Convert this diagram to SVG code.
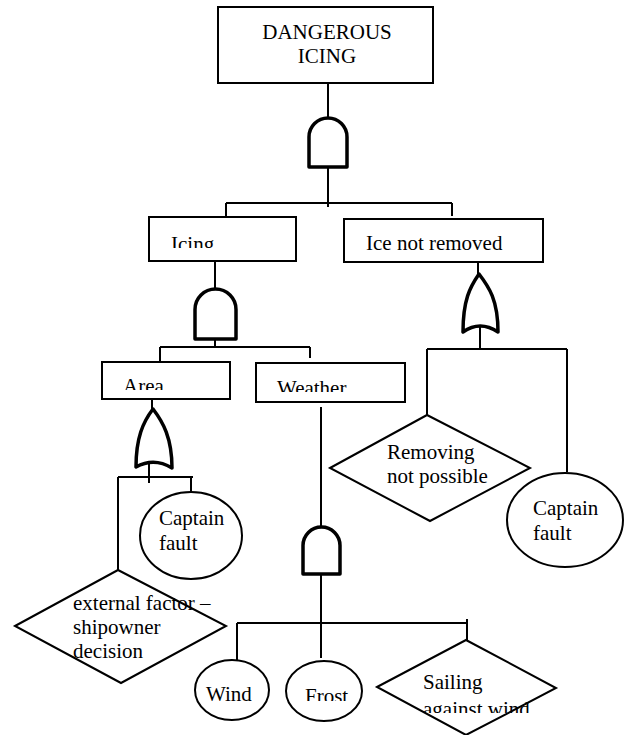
<svg xmlns="http://www.w3.org/2000/svg" width="627" height="735" viewBox="0 0 627 735">
<style>
.box{fill:#fff;stroke:#000;stroke-width:2}
.shape{fill:#fff;stroke:#000;stroke-width:2}
.gate{fill:#fff;stroke:#000;stroke-width:3.5;stroke-linejoin:round}
.conn line{stroke:#000;stroke-width:2}
text{font-family:"Liberation Serif","Times New Roman",serif;font-size:21px;fill:#000}
</style>
<defs>
<clipPath id="cIcing"><rect x="140" y="200" width="160" height="48"/></clipPath>
<clipPath id="cArea"><rect x="100" y="360" width="130" height="30"/></clipPath>
<clipPath id="cWeather"><rect x="250" y="360" width="160" height="32"/></clipPath>
<clipPath id="cFrost"><rect x="280" y="660" width="90" height="41"/></clipPath>
<clipPath id="cSail"><rect x="370" y="640" width="200" height="73"/></clipPath>
</defs>
<rect width="627" height="735" fill="#fff"/>
<g id="connectors" class="conn">
<line x1="328" y1="83" x2="328" y2="118"/>
<line x1="328" y1="167" x2="328" y2="207"/>
<line x1="226" y1="203" x2="452" y2="203"/>
<line x1="226" y1="203" x2="226" y2="218"/>
<line x1="452" y1="203" x2="452" y2="216"/>
<line x1="215" y1="261" x2="215" y2="289"/>
<line x1="215" y1="339" x2="215" y2="347"/>
<line x1="160" y1="347" x2="310" y2="347"/>
<line x1="160" y1="347" x2="160" y2="363"/>
<line x1="310" y1="347" x2="310" y2="358"/>
<line x1="478" y1="256" x2="478" y2="274"/>
<line x1="480" y1="326" x2="480" y2="349"/>
<line x1="427" y1="349" x2="567" y2="349"/>
<line x1="427" y1="349" x2="427" y2="415"/>
<line x1="567" y1="349" x2="567" y2="472"/>
<line x1="152" y1="395" x2="152" y2="409"/>
<line x1="149" y1="463" x2="149" y2="483"/>
<line x1="118" y1="477" x2="193" y2="477"/>
<line x1="118" y1="477" x2="118" y2="570"/>
<line x1="191" y1="477" x2="191" y2="492"/>
<line x1="321" y1="407" x2="321" y2="527"/>
<line x1="321" y1="574" x2="321" y2="658"/>
<line x1="237" y1="623" x2="467" y2="623"/>
<line x1="237" y1="623" x2="237" y2="667"/>
<line x1="467" y1="619" x2="467" y2="640"/>
</g>
<g id="top">
<rect class="box" x="218" y="7" width="215" height="76"/>
<text x="327" y="39" text-anchor="middle">DANGEROUS</text>
<text x="327" y="63" text-anchor="middle">ICING</text>
</g>
<g id="gate-top"><path class="gate" d="M309,167 V137 A19,19 0 0 1 347,137 V167 Z"/></g>
<g id="icing">
<rect class="box" x="149" y="217" width="147" height="44"/>
<text x="171" y="251" clip-path="url(#cIcing)">Icing</text>
</g>
<g id="ice-not-removed">
<rect class="box" x="344" y="219" width="199" height="43"/>
<text x="366" y="250">Ice not removed</text>
</g>
<g id="gate-icing"><path class="gate" d="M195,339 V309.5 A20.5,20.5 0 0 1 236,309.5 V339 Z"/></g>
<g id="gate-ice"><path class="gate" d="M463,332 C463,300 470,287 479,274 C489,287 498,300 498,332 Q480,320 463,332 Z"/></g>
<g id="area">
<rect class="box" x="102" y="362" width="128" height="37"/>
<text x="123" y="393" clip-path="url(#cArea)">Area</text>
</g>
<g id="weather">
<rect class="box" x="256" y="363" width="149" height="39"/>
<text x="277" y="395" clip-path="url(#cWeather)">Weather</text>
</g>
<g id="gate-area"><path class="gate" d="M136,467 C136,438 143,422 153,409 C163,422 172,438 172,468 Q154,457 136,467 Z"/></g>
<g id="gate-weather"><path class="gate" d="M303,574 V545.5 A18.5,18.5 0 0 1 340,545.5 V574 Z"/></g>
<g id="removing">
<polygon class="shape" points="330,468 427,415 530,468 430,521"/>
<text x="387" y="459">Removing</text>
<text x="387" y="483">not possible</text>
</g>
<g id="captain-right">
<ellipse class="shape" cx="565" cy="520" rx="58" ry="47"/>
<text x="533" y="515">Captain</text>
<text x="533" y="540">fault</text>
</g>
<g id="captain-left">
<ellipse class="shape" cx="191" cy="535.5" rx="51" ry="43.5"/>
<text x="159" y="525">Captain</text>
<text x="159" y="550">fault</text>
</g>
<g id="external">
<polygon class="shape" points="15,626 118,570 226,626 121,683"/>
<text x="73" y="610">external factor –</text>
<text x="73" y="634">shipowner</text>
<text x="73" y="658">decision</text>
</g>
<g id="wind">
<ellipse class="shape" cx="232" cy="690" rx="37" ry="30"/>
<text x="206" y="701">Wind</text>
</g>
<g id="frost">
<ellipse class="shape" cx="324" cy="691" rx="38" ry="30"/>
<text x="305" y="703" clip-path="url(#cFrost)">Frost</text>
</g>
<g id="sailing">
<polygon class="shape" points="377,687 466,640 556,688 466,735"/>
<text x="423" y="689">Sailing</text>
<text x="423" y="716" clip-path="url(#cSail)">against wind</text>
</g>
</svg>
